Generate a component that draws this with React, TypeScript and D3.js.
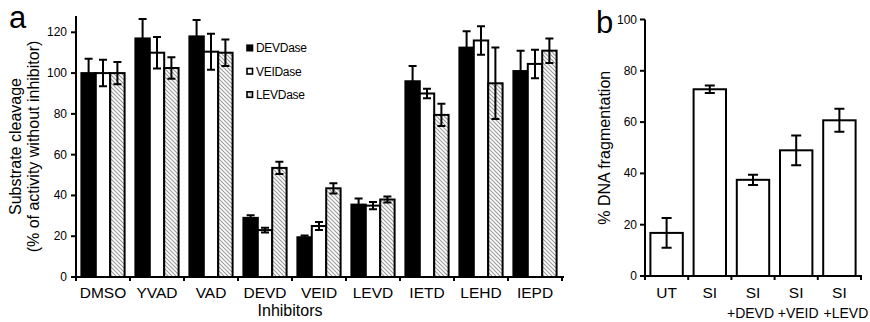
import * as d3 from 'd3';

const inhibitors = ['DMSO', 'YVAD', 'VAD', 'DEVD', 'VEID', 'LEVD', 'IETD', 'LEHD', 'IEPD'];
const seriesNames = ['DEVDase', 'VEIDase', 'LEVDase'];
const devdValues = [100, 117, 118, 29, 19.5, 35.5, 96, 112.5, 101];
const devdErrors = [7, 9.5, 8, 1.3, 0.8, 3, 7.5, 8, 10];
const veidValues = [100, 110, 110.5, 23, 25, 35, 90, 116, 104.5];
const veidErrors = [6.5, 7.7, 8.8, 1.2, 2, 1.8, 2.3, 7, 7];
const levdValues = [100, 102.5, 110, 53.5, 43.5, 38, 79.5, 95, 111];
const levdErrors = [5.5, 5.3, 6.5, 3, 2.5, 1.5, 5.5, 17.5, 6];
const yTicksA = [0, 20, 40, 60, 80, 100, 120];

const treatments = ['UT', 'SI', 'SI', 'SI', 'SI'];
const treatmentSub = ['', '', '+DEVD', '+VEID', '+LEVD'];
const fragValues = [16.8, 72.8, 37.5, 49, 60.7];
const fragErrors = [5.8, 1.5, 2, 5.8, 4.5];
const yTicksB = [0, 20, 40, 60, 80, 100];

const font = '"Liberation Sans", Arial, Helvetica, sans-serif';

const App = () => {
    const seriesValues = [devdValues, veidValues, levdValues];
    const seriesErrors = [devdErrors, veidErrors, levdErrors];
    const fills = ['#000', '#fff', 'url(#hatch)'];

    // panel a
    const xA = d3.scaleBand().domain(inhibitors).range([76, 562]).paddingInner(0.2).paddingOuter(0.1);
    const xSub = d3.scaleBand().domain(seriesNames).range([0, xA.bandwidth()]);
    const yA = d3.scaleLinear().domain([0, 128]).range([277, 16]);
    const stepA = xA.step();

    // panel b
    const xB = d3.scaleBand().domain(d3.range(treatments.length)).range([645, 861]).paddingInner(0.25).paddingOuter(0.125);
    const yB = d3.scaleLinear().domain([0, 100]).range([276, 19.5]);
    const stepB = xB.step();

    const capA = 4;
    const capB = 5;

    return (
        <svg width={870} height={322} style={{ position: 'absolute', left: 0, top: 0, fontFamily: font }}>
            <defs>
                <pattern id="hatch" patternUnits="userSpaceOnUse" width={4} height={4}>
                    <rect width={4} height={4} fill="#fff" />
                    <path d="M-1,-1 L5,5 M-1,3 L1,5 M3,-1 L5,1" stroke="#9a9a9a" strokeWidth={1.1} />
                </pattern>
            </defs>
            <rect width={870} height={322} fill="#fff" />

            {/* ---------- panel a ---------- */}
            <text x={9} y={28} fontSize={31}>a</text>
            <text transform={`translate(21,${(yA(0) + yA(128)) / 2}) rotate(-90)`} textAnchor="middle" fontSize={16}>Substrate cleavage</text>
            <text transform={`translate(39,${(yA(0) + yA(128)) / 2}) rotate(-90)`} textAnchor="middle" fontSize={16}>(% of activity without inhibitor)</text>

            {inhibitors.map((cat, i) => (
                <g key={cat}>
                    {seriesNames.map((s, j) => {
                        const v = seriesValues[j][i];
                        const bx = xA(cat) + xSub(s);
                        return (
                            <rect key={s} x={bx} y={yA(v)} width={xSub.bandwidth()} height={yA(0) - yA(v)}
                                fill={fills[j]} stroke="#000" strokeWidth={2} />
                        );
                    })}
                    {seriesNames.map((s, j) => {
                        const v = seriesValues[j][i];
                        const e = seriesErrors[j][i];
                        const cx = xA(cat) + xSub(s) + xSub.bandwidth() / 2;
                        return (
                            <path key={s} fill="none" stroke="#000" strokeWidth={2}
                                d={`M${cx},${yA(v - e)}V${yA(v + e)}M${cx - capA},${yA(v + e)}H${cx + capA}M${cx - capA},${yA(v - e)}H${cx + capA}`} />
                        );
                    })}
                    <text x={xA(cat) + xA.bandwidth() / 2} y={298} textAnchor="middle" fontSize={15.5}>{cat}</text>
                </g>
            ))}

            {/* axes a */}
            <path d={`M76,${yA(128)}V${yA(0)}H${xA.range()[1] + 2}`} fill="none" stroke="#000" strokeWidth={2} />
            {yTicksA.map((t) => (
                <g key={t}>
                    <path d={`M71,${yA(t)}H76`} stroke="#000" strokeWidth={2} />
                    <text x={67} y={yA(t) + 4} textAnchor="end" fontSize={12}>{t}</text>
                </g>
            ))}
            {d3.range(inhibitors.length + 1).map((i) => (
                <path key={i} d={`M${76 + i * stepA},${yA(0)}v4`} stroke="#000" strokeWidth={2} />
            ))}
            <text x={290} y={316} textAnchor="middle" fontSize={16}>Inhibitors</text>

            {/* legend */}
            {seriesNames.map((s, j) => (
                <g key={s} transform={`translate(247,${48 + j * 23.3})`}>
                    <rect x={0} y={-2.8} width={5.5} height={5.5} fill={fills[j]} stroke="#000" strokeWidth={1.6} />
                    <text x={9} y={4.3} fontSize={12} letterSpacing={-0.3}>{s}</text>
                </g>
            ))}

            {/* ---------- panel b ---------- */}
            <text x={596} y={33} fontSize={31}>b</text>
            <text transform={`translate(610,${(yB(0) + yB(100)) / 2}) rotate(-90)`} textAnchor="middle" fontSize={16}>% DNA fragmentation</text>

            {treatments.map((t, i) => {
                const v = fragValues[i];
                const e = fragErrors[i];
                const cx = xB(i) + xB.bandwidth() / 2;
                return (
                    <g key={i}>
                        <rect x={xB(i)} y={yB(v)} width={xB.bandwidth()} height={yB(0) - yB(v)} fill="#fff" stroke="#000" strokeWidth={2} />
                        <path fill="none" stroke="#000" strokeWidth={2}
                            d={`M${cx},${yB(v - e)}V${yB(v + e)}M${cx - capB},${yB(v + e)}H${cx + capB}M${cx - capB},${yB(v - e)}H${cx + capB}`} />
                        <text x={cx} y={298} textAnchor="middle" fontSize={15.5}>{t}</text>
                        {treatmentSub[i] &&
                            <text x={cx + (i - 3) * 4.5 + 2} y={318} textAnchor="middle" fontSize={14}>{treatmentSub[i]}</text>
                        }
                    </g>
                );
            })}

            {/* axes b */}
            <path d={`M645,${yB(100)}V${yB(0)}H${xB.range()[1] + 1}`} fill="none" stroke="#000" strokeWidth={2} />
            {yTicksB.map((t) => (
                <g key={t}>
                    <path d={`M640,${yB(t)}H645`} stroke="#000" strokeWidth={2} />
                    <text x={637} y={yB(t) + 4} textAnchor="end" fontSize={12}>{t}</text>
                </g>
            ))}
            {d3.range(treatments.length + 1).map((i) => (
                <path key={i} d={`M${645 + i * stepB},${yB(0)}v4`} stroke="#000" strokeWidth={2} />
            ))}
        </svg>
    );
};

export default App;
